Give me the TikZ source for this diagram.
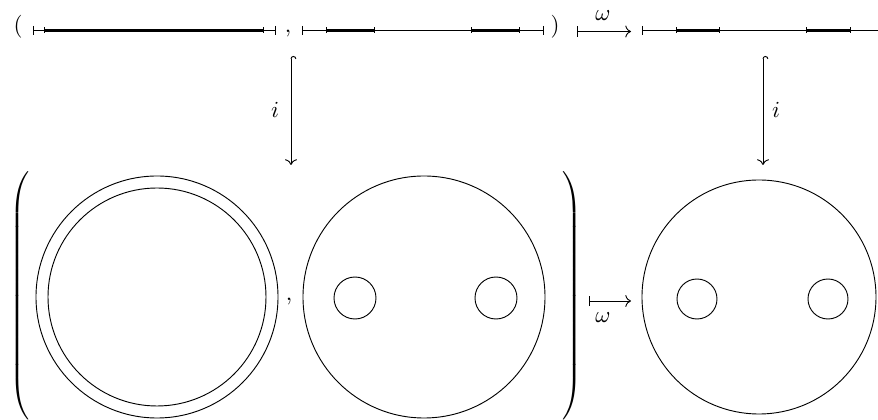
\documentclass[tikz,border=0pt]{standalone}
\usetikzlibrary{arrows.meta}
\begin{document}
\begin{tikzpicture}[x=0.4348pt,y=-0.4348pt,
  thinline/.style={line width=0.4pt},
  thickseg/.style={line width=1.2pt},
  endbar/.style={line width=0.4pt},
  circline/.style={line width=0.4pt},
  lbl/.style={inner sep=0pt, anchor=base},
  hookarrow/.style={line width=0.4pt, {Hooks[right]}-{Computer Modern Rightarrow}},
  mapsarrow/.style={line width=0.4pt, {Bar[width=4.5pt]}-{Computer Modern Rightarrow}},
  bigparen/.style={inner sep=0pt}
]
\useasboundingbox (0,0) rectangle (878,420);
% ---------- top row ----------
\node[lbl] (tlp) at (18,32.5) {$($};
\node[lbl] (tcomma) at (288,32.5) {$,$};
\node[lbl] (trp) at (555,32.5) {$)$};
% interval 1
\draw[thinline] (33,30.5) -- (275,30.5);
\draw[thickseg] (44,30.5) -- (263,30.5);
\foreach \x in {33,275} \draw[endbar] (\x,26) -- (\x,35);
\foreach \x in {44,263} \draw[endbar] (\x,27.5) -- (\x,33.5);
% interval 2
\draw[thinline] (302,30.5) -- (543,30.5);
\draw[thickseg] (326,30.5) -- (374,30.5);
\draw[thickseg] (471,30.5) -- (519,30.5);
\foreach \x in {302,543} \draw[endbar] (\x,26) -- (\x,35);
\foreach \x in {326,374,471,519} \draw[endbar] (\x,27.5) -- (\x,33.5);
% interval 3
\draw[thinline] (642,30.5) -- (878,30.5);
\draw[thickseg] (676,30.5) -- (719,30.5);
\draw[thickseg] (806,30.5) -- (850,30.5);
\foreach \x in {642} \draw[endbar] (\x,26) -- (\x,35);
\foreach \x in {676,719,806,850} \draw[endbar] (\x,27.5) -- (\x,33.5);
% top omega arrow
\coordinate (wta) at (577,31.5);
\coordinate (wtb) at (631,31.5);
\draw[mapsarrow] (wta) -- (wtb);
\node[lbl] (wtl) at (603,20.5) {$\omega$};
% ---------- vertical arrows ----------
\coordinate (iLa) at (291,56);
\coordinate (iLb) at (291,165);
\draw[hookarrow] (iLa) -- (iLb);
\node[lbl] (iLl) at (275,118) {$i$};
\coordinate (iRa) at (763,56);
\coordinate (iRb) at (763,165);
\draw[hookarrow] (iRa) -- (iRb);
\node[lbl] (iRl) at (776,118) {$i$};
% ---------- bottom row ----------
\node[bigparen] (blp) at (21,296) {\delimiterfactor=1000 \delimitershortfall=0pt $\left(\vcenter{\hbox{\rule{0pt}{107pt}}}\right.$};
\node[bigparen] (brp) at (571,296) {\delimiterfactor=1000 \delimitershortfall=0pt $\left.\vcenter{\hbox{\rule{0pt}{107pt}}}\right)$};
\draw[circline] (157,297) circle[radius=121];
\draw[circline] (157,297) circle[radius=109];
\node[lbl] (bcomma) at (289,301) {$,$};
\draw[circline] (424,297) circle[radius=121];
\draw[circline] (355,298) circle[radius=21];
\draw[circline] (496,298) circle[radius=21];
\coordinate (wba) at (589,301);
\coordinate (wbb) at (631,301);
\draw[mapsarrow] (wba) -- (wbb);
\node[lbl] (wbl) at (603,323) {$\omega$};
\draw[circline] (759,297) circle[radius=117];
\draw[circline] (697,299) circle[radius=20];
\draw[circline] (828,299) circle[radius=20];
\end{tikzpicture}
\end{document}
